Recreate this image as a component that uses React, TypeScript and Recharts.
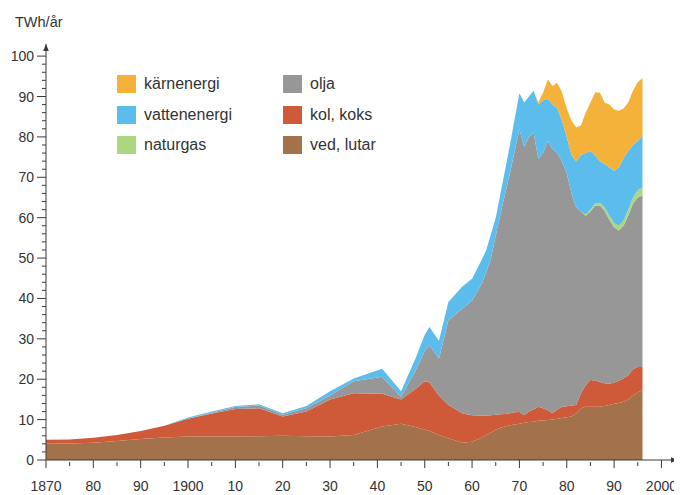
import { Area, AreaChart, XAxis, YAxis } from 'recharts'

const YEARS = [
  1870, 1875, 1880, 1885, 1890, 1895, 1900, 1905, 1910, 1915, 1920, 1925,
  1930, 1935, 1941, 1945, 1948, 1950, 1951, 1953, 1955, 1958, 1960, 1962,
  1963, 1964, 1965, 1966, 1967, 1968, 1969, 1970, 1971, 1972, 1973, 1974,
  1975, 1976, 1977, 1978, 1979, 1980, 1981, 1982, 1983, 1984, 1985, 1986,
  1987, 1988, 1989, 1990, 1991, 1992, 1993, 1994, 1995, 1996,
]

// TWh/år per energy source, bottom layer first
const VED = [
  4.0, 4.1, 4.3, 4.7, 5.2, 5.6, 5.8, 5.8, 5.8, 5.9, 6.0, 5.9, 5.8, 6.2, 8.3,
  9.0, 8.2, 7.5, 7.2, 6.2, 5.4, 4.3, 4.5, 5.5, 6.2, 6.8, 7.5, 8.0, 8.3, 8.6,
  8.8, 9.0, 9.2, 9.4, 9.5, 9.7, 9.8, 9.9, 10.0, 10.2, 10.4, 10.6, 10.8, 11.5,
  12.8, 13.2, 13.2, 13.2, 13.2, 13.4, 13.6, 13.9, 14.1, 14.4, 15.0, 16.0,
  16.8, 17.3,
]
const KOL = [
  1.0, 1.0, 1.2, 1.5, 2.0, 2.9, 4.4, 5.7, 6.8, 6.9, 4.8, 6.1, 9.2, 10.3, 8.1,
  6.0, 9.3, 12.0, 12.0, 9.8, 8.2, 7.2, 6.6, 5.5, 4.8, 4.3, 3.7, 3.3, 3.1, 3.0,
  3.0, 2.9, 1.9, 2.6, 3.0, 3.5, 3.0, 2.4, 1.6, 2.3, 2.8, 2.7, 2.7, 2.1, 3.7,
  5.3, 6.6, 6.5, 6.1, 5.6, 5.3, 5.3, 5.5, 5.8, 6.0, 6.5, 6.2, 5.7,
]
const OLJA = [
  0, 0, 0, 0, 0, 0, 0.1, 0.2, 0.5, 0.7, 0.4, 0.8, 1.0, 3.0, 4.2, 0.6, 4.5,
  7.5, 9.2, 9.1, 21.0, 26.0, 28.4, 32.5, 35.5, 38.9, 44.3, 49.7, 54.6, 59.4,
  64.7, 69.9, 66.4, 68.0, 68.5, 61.3, 63.2, 66.7, 65.4, 63.5, 60.8, 57.7,
  52.5, 48.9, 45.0, 42.0, 41.7, 43.3, 43.7, 42.7, 40.6, 38.4, 37.2, 37.8,
  39.5, 41.0, 42.0, 42.5,
]
const NATURGAS = [
  0, 0, 0, 0, 0, 0, 0, 0, 0, 0, 0, 0, 0, 0, 0, 0, 0, 0, 0, 0, 0, 0, 0, 0, 0,
  0, 0, 0, 0, 0, 0, 0, 0, 0, 0, 0, 0, 0, 0, 0, 0, 0, 0, 0, 0, 0.2, 0.5, 0.6,
  0.7, 0.8, 1.0, 1.1, 1.2, 1.3, 1.5, 1.5, 1.8, 2.0,
]
const VATTEN = [
  0, 0, 0, 0, 0, 0, 0.2, 0.3, 0.3, 0.3, 0.4, 0.6, 1.0, 0.7, 2.0, 1.4, 3.0,
  4.0, 4.5, 4.4, 4.5, 5.5, 5.4, 6.0, 5.5, 6.0, 4.5, 5.0, 6.0, 7.0, 8.0, 9.0,
  11.0, 10.0, 10.4, 13.5, 13.0, 10.5, 11.0, 11.0, 10.0, 9.0, 9.5, 11.5, 14.0,
  15.3, 14.5, 11.9, 10.3, 10.8, 12.0, 12.9, 14.5, 15.5, 14.5, 13.0, 12.2,
  12.7,
]
const KARN = [
  0, 0, 0, 0, 0, 0, 0, 0, 0, 0, 0, 0, 0, 0, 0, 0, 0, 0, 0, 0, 0, 0, 0, 0, 0,
  0, 0, 0, 0, 0, 0, 0, 0, 0, 0, 0.5, 2.0, 4.7, 4.6, 6.4, 7.0, 7.0, 8.5, 8.3,
  7.3, 10.0, 12.0, 15.5, 17.0, 15.2, 15.5, 15.2, 14.0, 12.2, 12.0, 13.5,
  14.5, 14.4,
]

const X_TICKS = [
  1870, 1875, 1880, 1885, 1890, 1895, 1900, 1905, 1910, 1915, 1920, 1925,
  1930, 1935, 1940, 1945, 1950, 1955, 1960, 1965, 1970, 1975, 1980, 1985,
  1990, 1995, 2000,
]
const X_MAJOR = [
  1870, 1880, 1890, 1900, 1910, 1920, 1930, 1940, 1950, 1960, 1970, 1980,
  1990, 2000,
]
const X_LABELS = [
  '1870', '80', '90', '1900', '10', '20', '30', '40', '50', '60', '70', '80',
  '90', '2000',
]
const Y_TICKS = [
  0, 2, 4, 6, 8, 10, 12, 14, 16, 18, 20, 22, 24, 26, 28, 30, 32, 34, 36, 38,
  40, 42, 44, 46, 48, 50, 52, 54, 56, 58, 60, 62, 64, 66, 68, 70, 72, 74, 76,
  78, 80, 82, 84, 86, 88, 90, 92, 94, 96, 98, 100,
]
const Y_MAJOR = [0, 10, 20, 30, 40, 50, 60, 70, 80, 90, 100]

const SERIES = [
  { key: 'ved', label: 'ved, lutar', color: '#a4724a' },
  { key: 'kol', label: 'kol, koks', color: '#cf5a3a' },
  { key: 'olja', label: 'olja', color: '#979797' },
  { key: 'naturgas', label: 'naturgas', color: '#abd77e' },
  { key: 'vatten', label: 'vattenenergi', color: '#5cbdec' },
  { key: 'karn', label: 'kärnenergi', color: '#f4b23a' },
]

const LEGEND_LEFT = ['karn', 'vatten', 'naturgas']
const LEGEND_RIGHT = ['olja', 'kol', 'ved']

const FONT = '"Liberation Sans", Arial, sans-serif'
const AXIS_COLOR = '#3a3a3a'
const TEXT_COLOR = '#333'

const chartData = YEARS.map((year, i) => ({
  year,
  ved: VED[i],
  kol: KOL[i],
  olja: OLJA[i],
  naturgas: NATURGAS[i],
  vatten: VATTEN[i],
  karn: KARN[i],
}))

function XTick({ x, y, payload }: any) {
  const idx = X_MAJOR.indexOf(payload.value)
  const major = idx >= 0
  return (
    <g>
      <line
        x1={x}
        x2={x}
        y1={y + (major ? 0 : 2)}
        y2={y + (major ? 8 : 6)}
        stroke={AXIS_COLOR}
        strokeWidth={1}
      />
      {major ? (
        <text
          x={x}
          y={y + 31}
          textAnchor="middle"
          fontSize={14}
          fontFamily={FONT}
          fill={TEXT_COLOR}
        >
          {X_LABELS[idx]}
        </text>
      ) : null}
    </g>
  )
}

function YTick({ x, y, payload }: any) {
  const major = Y_MAJOR.includes(payload.value)
  return (
    <g>
      <line
        x1={x - (major ? 9 : 4)}
        x2={x}
        y1={y}
        y2={y}
        stroke={AXIS_COLOR}
        strokeWidth={1}
      />
      {major ? (
        <text
          x={x - 12}
          y={y + 5}
          textAnchor="end"
          fontSize={14}
          fontFamily={FONT}
          fill={TEXT_COLOR}
        >
          {payload.value}
        </text>
      ) : null}
    </g>
  )
}

function LegendColumn({ keys, left }: { keys: string[]; left: number }) {
  return (
    <div style={{ position: 'absolute', left, top: 61 }}>
      {keys.map((key) => {
        const s = SERIES.find((item) => item.key === key)!
        return (
          <div
            key={key}
            style={{ display: 'flex', alignItems: 'center', height: 30.5 }}
          >
            <span
              style={{
                display: 'inline-block',
                width: 19,
                height: 18,
                background: s.color,
                marginRight: 8,
              }}
            />
            <span
              style={{ fontSize: 16, fontFamily: FONT, color: TEXT_COLOR }}
            >
              {s.label}
            </span>
          </div>
        )
      })}
    </div>
  )
}

export default function App() {
  return (
    <div style={{ position: 'relative', width: 674, height: 487 }}>
      <AreaChart
        width={674}
        height={487}
        data={chartData}
        margin={{ top: 36, right: 4, bottom: 5, left: 8 }}
      >
        <defs>
          <marker
            id="axisArrow"
            viewBox="0 0 10 10"
            refX="10"
            refY="5"
            markerWidth="8"
            markerHeight="7"
            markerUnits="userSpaceOnUse"
            orient="auto-start-reverse"
          >
            <path d="M0,1 L10,5 L0,9 z" fill={AXIS_COLOR} />
          </marker>
        </defs>
        <XAxis
          dataKey="year"
          type="number"
          domain={[1870, 2003.5]}
          ticks={X_TICKS}
          interval={0}
          height={30}
          tickSize={0}
          tickMargin={0}
          tickLine={false}
          tick={<XTick />}
          axisLine={{ stroke: AXIS_COLOR, markerEnd: 'url(#axisArrow)' }}
        />
        <YAxis
          type="number"
          domain={[0, 103]}
          ticks={Y_TICKS}
          interval={0}
          width={30}
          tickSize={0}
          tickMargin={0}
          tickLine={false}
          tick={<YTick />}
          axisLine={{ stroke: AXIS_COLOR, markerStart: 'url(#axisArrow)' }}
        />
        {SERIES.map((s) => (
          <Area
            key={s.key}
            type="linear"
            dataKey={s.key}
            name={s.label}
            stackId="energi"
            stroke="none"
            fill={s.color}
            fillOpacity={1}
            isAnimationActive={false}
          />
        ))}
      </AreaChart>
      <div
        style={{
          position: 'absolute',
          left: 7,
          top: 6,
          fontSize: 14.5,
          fontFamily: FONT,
          color: TEXT_COLOR,
        }}
      >
        TWh/år
      </div>
      <LegendColumn keys={LEGEND_LEFT} left={109} />
      <LegendColumn keys={LEGEND_RIGHT} left={275} />
    </div>
  )
}
